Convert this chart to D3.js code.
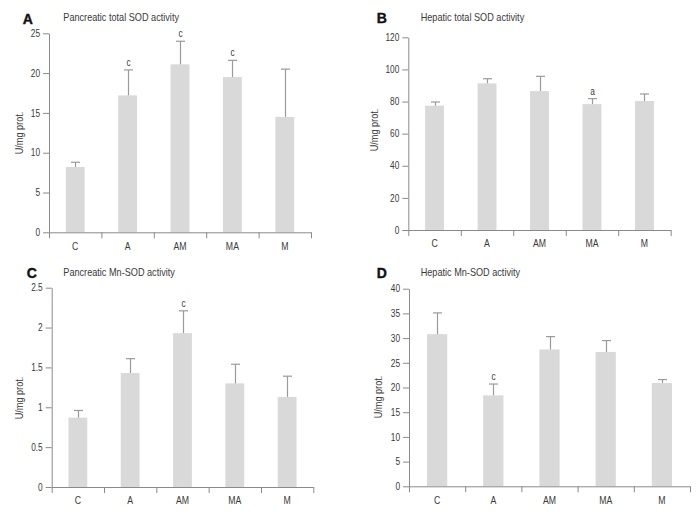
<!DOCTYPE html>
<html><head><meta charset="utf-8">
<script src="https://cdn.jsdelivr.net/npm/d3@7"></script>
<style>
html,body{margin:0;padding:0;background:#fff;}
svg{display:block;}
</style></head>
<body>
<svg id="chart" width="700" height="514"></svg>
<script>
const categories = ["C","A","AM","MA","M"];

const panelA_mean = [8.2, 17.2, 21.1, 19.5, 14.5];
const panelA_sd   = [0.6, 3.2, 2.9, 2.1, 6.0];
const panelA_sig  = ["", "c", "c", "c", ""];
const panelA_ticks = [0, 5, 10, 15, 20, 25];

const panelB_mean = [77.4, 91.3, 86.5, 78.4, 80.3];
const panelB_sd   = [2.3, 2.9, 9.2, 3.4, 4.4];
const panelB_sig  = ["", "", "", "a", ""];
const panelB_ticks = [0, 20, 40, 60, 80, 100, 120];

const panelC_mean = [0.87, 1.43, 1.93, 1.30, 1.13];
const panelC_sd   = [0.09, 0.18, 0.28, 0.24, 0.26];
const panelC_sig  = ["", "", "c", "", ""];
const panelC_ticks = [0, 0.5, 1, 1.5, 2, 2.5];

const panelD_mean = [30.8, 18.4, 27.7, 27.2, 20.9];
const panelD_sd   = [4.3, 2.3, 2.6, 2.3, 0.7];
const panelD_sig  = ["", "c", "", "", ""];
const panelD_ticks = [0, 5, 10, 15, 20, 25, 30, 35, 40];

const letters = ["A", "B", "C", "D"];
const titles = ["Pancreatic total SOD activity", "Hepatic total SOD activity",
                "Pancreatic Mn-SOD activity", "Hepatic Mn-SOD activity"];
const yTitle = "U/mg prot.";

const panels = [
  {mean: panelA_mean, sd: panelA_sd, sig: panelA_sig, ticks: panelA_ticks,
   x0: 49, x1: 311, yTop: 33.3, yBot: 232.3,
   letter: [22.7, 24], title: [63.3, 21], ylab: [22.5, 133]},
  {mean: panelB_mean, sd: panelB_sd, sig: panelB_sig, ticks: panelB_ticks,
   x0: 408.3, x1: 670.7, yTop: 37.3, yBot: 230,
   letter: [376.7, 23.3], title: [420.7, 20.7], ylab: [378.3, 130]},
  {mean: panelC_mean, sd: panelC_sd, sig: panelC_sig, ticks: panelC_ticks,
   x0: 51.7, x1: 313.3, yTop: 287.7, yBot: 487,
   letter: [26.7, 277.7], title: [63.3, 276.3], ylab: [23.3, 398]},
  {mean: panelD_mean, sd: panelD_sd, sig: panelD_sig, ticks: panelD_ticks,
   x0: 409, x1: 690, yTop: 288.7, yBot: 486.3,
   letter: [376.7, 277.5], title: [420.7, 276.3], ylab: [381.7, 397]}
];

const svg = d3.select("#chart");
const FONT = "'Liberation Sans', Arial, sans-serif";
const AXIS = "#8a8a8a";
const BAR = "#d9d9d9";
const ERR = "#9a9a9a";
const TXT = "#3a3a3a";
const NARROW = 0.83;

// compress text horizontally to mimic a narrow typeface
function narrow(sel) {
  sel.each(function () {
    const w = this.getComputedTextLength();
    if (w > 0) {
      d3.select(this).attr("textLength", w * NARROW).attr("lengthAdjust", "spacingAndGlyphs");
    }
  });
}

panels.forEach((p, i) => {
  const g = svg.append("g");
  const yMax = p.ticks[p.ticks.length - 1];
  const y = d3.scaleLinear().domain([0, yMax]).range([p.yBot, p.yTop]);
  const x = d3.scaleBand().domain(categories).range([p.x0, p.x1])
    .paddingInner(0.64).paddingOuter(0.32);
  const sep = d3.scaleLinear().domain([0, categories.length]).range([p.x0, p.x1]);

  // bars
  g.selectAll("rect.bar").data(categories).enter().append("rect")
    .attr("x", d => x(d))
    .attr("width", x.bandwidth())
    .attr("y", (d, j) => y(p.mean[j]))
    .attr("height", (d, j) => y(0) - y(p.mean[j]))
    .attr("fill", BAR);

  // error bars
  const capW = 9;
  categories.forEach((c, j) => {
    const cx = Math.round(x(c) + x.bandwidth() / 2) + 0.5;
    const top = y(p.mean[j] + p.sd[j]);
    g.append("line").attr("x1", cx).attr("x2", cx)
      .attr("y1", y(p.mean[j])).attr("y2", top)
      .attr("stroke", ERR).attr("stroke-width", 1.2);
    g.append("line").attr("x1", cx - capW / 2).attr("x2", cx + capW / 2)
      .attr("y1", top).attr("y2", top)
      .attr("stroke", ERR).attr("stroke-width", 1.2);
    if (p.sig[j]) {
      g.append("text").attr("x", cx).attr("y", top - 4)
        .attr("text-anchor", "middle")
        .attr("font-family", FONT).attr("font-size", 10)
        .attr("fill", TXT).text(p.sig[j]).call(narrow);
    }
  });

  // y axis
  const ya = g.append("g").attr("transform", `translate(${p.x0},0)`)
    .call(d3.axisLeft(y).tickValues(p.ticks).tickSize(6).tickSizeOuter(0).tickPadding(3)
      .tickFormat(d => String(d)));
  ya.select(".domain").attr("stroke", AXIS);
  ya.selectAll(".tick line").attr("stroke", AXIS);
  ya.selectAll(".tick text").attr("font-family", FONT).attr("font-size", 10).attr("fill", TXT).call(narrow);

  // x axis separators
  const xs = g.append("g").attr("transform", `translate(0,${p.yBot})`)
    .call(d3.axisBottom(sep).tickValues(d3.range(categories.length + 1)).tickSize(6)
      .tickSizeOuter(0).tickFormat(""));
  xs.select(".domain").attr("stroke", AXIS);
  xs.selectAll(".tick line").attr("stroke", AXIS);

  // x axis category labels
  const xl = g.append("g").attr("transform", `translate(0,${p.yBot})`)
    .call(d3.axisBottom(x).tickSize(0).tickPadding(10));
  xl.select(".domain").remove();
  xl.selectAll(".tick text").attr("font-family", FONT).attr("font-size", 10.5).attr("fill", TXT).call(narrow);

  // panel letter
  g.append("text").attr("x", p.letter[0]).attr("y", p.letter[1])
    .attr("font-family", FONT)
    .attr("font-weight", "bold").attr("font-size", 14).attr("fill", "#111")
    .attr("stroke", "#111").attr("stroke-width", 0.4)
    .text(letters[i]);
  // title
  g.append("text").attr("x", p.title[0]).attr("y", p.title[1])
    .attr("font-family", FONT).attr("font-size", 11).attr("fill", TXT)
    .text(titles[i]).call(narrow);
  // y title
  g.append("text")
    .attr("transform", `translate(${p.ylab[0]},${p.ylab[1]}) rotate(-90)`)
    .attr("text-anchor", "middle")
    .attr("font-family", FONT).attr("font-size", 11).attr("fill", TXT)
    .text(yTitle).call(narrow);
});
</script>
</body></html>
